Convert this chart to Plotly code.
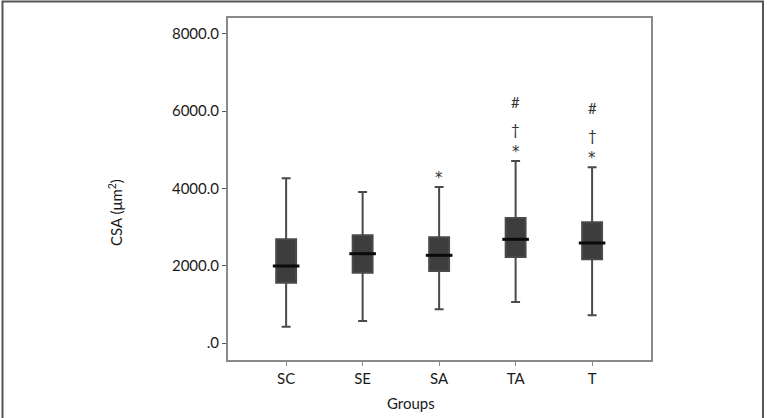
import plotly.graph_objects as go

groups = ["SC", "SE", "SA", "TA", "T"]
lower_whisker = [422, 570, 872, 1061, 717]
q1 = [1561, 1820, 1864, 2227, 2167]
median = [1993, 2312, 2270, 2684, 2589]
q3 = [2684, 2788, 2736, 3236, 3124]
upper_whisker = [4264, 3909, 4039, 4712, 4548]
significance = ["", "", "*", "*<br>†<br>#", "*<br>†<br>#"]

y_tickvals = [0, 2000, 4000, 6000, 8000]
y_ticktext = [".0", "2000.0", "4000.0", "6000.0", "8000.0"]

FONT = "Lato, Open Sans, sans-serif"
TXT = "#1a1a1a"

fig = go.Figure()
fig.add_trace(go.Box(
    x=groups,
    q1=q1, median=median, q3=q3,
    lowerfence=lower_whisker, upperfence=upper_whisker,
    fillcolor="#3d3d3d",
    line=dict(color="#4a4a4a", width=2),
    whiskerwidth=0.45,
    width=0.26,
    boxpoints=False,
    hoverinfo="skip",
    showlegend=False,
))
# darker median bars
fig.add_trace(go.Scatter(
    x=groups, y=median, mode="markers",
    marker=dict(symbol="line-ew", size=19, line=dict(color="#0a0a0a", width=3)),
    hoverinfo="skip", showlegend=False,
))

# significance markers stacked above whiskers
sym_offsets = {"*": 9, "†": 32, "#": 59}
sym_fonts = {"*": "DejaVu Sans", "†": FONT, "#": FONT}
for g, up, sig in zip(groups, upper_whisker, significance):
    if not sig:
        continue
    for s in sig.split("<br>"):
        fig.add_annotation(
            x=g, y=up, text=s, showarrow=False,
            yshift=sym_offsets[s], xanchor="center", yanchor="middle",
            font=dict(family=sym_fonts[s], size=15, color="#333"),
        )

# axis titles
fig.add_annotation(
    x=(411 - 228) / 423, y=(360 - 403) / 342, xref="paper", yref="paper",
    text="Groups", showarrow=False, xanchor="center", yanchor="middle",
    font=dict(family=FONT, size=15, color=TXT),
)
fig.add_annotation(
    x=(115 - 228) / 423, y=(360 - 213) / 342, xref="paper", yref="paper",
    text="CSA (μm<sup>2</sup>)", showarrow=False, textangle=-90,
    xanchor="center", yanchor="middle",
    font=dict(family=FONT, size=15, color=TXT),
)

# outer frame
fig.add_shape(
    type="rect", xref="paper", yref="paper",
    x0=(2.5 - 228) / 423, x1=(763 - 228) / 423,
    y0=(360 - 425) / 342, y1=(360 - 1.5) / 342,
    line=dict(color="#555", width=2), fillcolor="rgba(0,0,0,0)",
)

fig.update_layout(
    width=767, height=418,
    margin=dict(l=228, r=116, t=18, b=58),
    paper_bgcolor="white", plot_bgcolor="white",
    font=dict(family=FONT, size=15, color=TXT),
    showlegend=False,
)
fig.update_xaxes(
    range=[-0.76, 4.77], showline=True, mirror=True,
    linecolor="#8a8a8a", linewidth=2, showgrid=False, zeroline=False,
    ticks="outside", ticklen=4, tickcolor="#8a8a8a", tickwidth=1,
    tickfont=dict(family=FONT, size=15, color=TXT),
)
fig.update_yaxes(
    range=[-440, 8414], showline=True, mirror=True,
    linecolor="#8a8a8a", linewidth=2, showgrid=False, zeroline=False,
    tickvals=y_tickvals, ticktext=y_ticktext,
    ticks="outside", ticklen=4, tickcolor="#555", tickwidth=1,
    tickfont=dict(family=FONT, size=15, color=TXT),
)

fig.write_html("out.html")
